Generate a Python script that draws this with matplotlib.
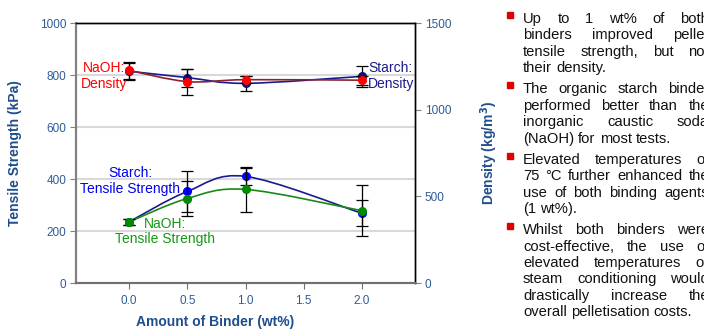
import numpy as np
import matplotlib
matplotlib.use('Agg')
import matplotlib.pyplot as plt
from matplotlib.path import Path
from matplotlib.patches import PathPatch
from matplotlib.lines import Line2D

plt.rcParams['font.family'] = ['Liberation Sans', 'DejaVu Sans']

# binder amount (wt%)
binder = [0.0, 0.5, 1.0, 2.0]

# tensile strength (kPa), left axis
starch_ts = [235, 352, 410, 268]
starch_ts_err = [12, 79, 33, 50]
naoh_ts = [235, 325, 360, 278]
naoh_ts_err = [12, 66, 88, 98]

# density (kg/m3), right axis
starch_den = [1222, 1185, 1152, 1192]
starch_den_err = [48, 52, 45, 60]
naoh_den = [1227, 1162, 1173, 1170]
naoh_den_err = [48, 75, 22, 25]

bullets = [
    ["Up to 1 wt% of both", "binders improved pellet",
     "tensile strength, but not", "their density."],
    ["The organic starch binder", "performed better than the",
     "inorganic caustic soda", "(NaOH) for most tests."],
    ["Elevated temperatures of", "75 °C further enhanced the",
     "use of both binding agents", "(1 wt%)."],
    ["Whilst both binders were", "cost-effective, the use of",
     "elevated temperatures or", "steam conditioning would",
     "drastically increase the", "overall pelletisation costs."],
]

W, H = 704, 329
TICK_C = '#2E5C99'
LABEL_C = '#1F4E8C'


def px(x, y):
    return x / W, 1 - y / H


def smooth_path(xs, ys):
    # bezier smoothing like the spreadsheet "smoothed line" option
    pts = np.column_stack([xs, ys]).astype(float)
    verts = [pts[0]]
    codes = [Path.MOVETO]
    n = len(pts)
    for i in range(n - 1):
        p0 = pts[max(i - 1, 0)]
        p1 = pts[i]
        p2 = pts[i + 1]
        p3 = pts[min(i + 2, n - 1)]
        verts += [p1 + (p2 - p0) / 6, p2 - (p3 - p1) / 6, p2]
        codes += [Path.CURVE4] * 3
    return Path(verts, codes)


def draw_series(ax, x, y, err, line_c, mark_c, z):
    ax.add_patch(PathPatch(smooth_path(x, y), facecolor='none',
                           edgecolor=line_c, lw=1.2, zorder=z))
    ax.errorbar(x, y, yerr=err, fmt='none', ecolor='black', elinewidth=0.9,
                capsize=4, capthick=0.9, zorder=z + 0.1)
    ax.plot(x, y, 'o', color=mark_c, ms=5.5, zorder=z + 0.2)


fig = plt.figure(figsize=(W / 100, H / 100), dpi=100)
ax = fig.add_axes([76 / W, 1 - 283 / H, (415 - 76) / W, (283 - 23) / H])
ax2 = ax.twinx()

ax.set_xlim(-0.455, 2.455)
ax.set_ylim(0, 1000)
ax2.set_ylim(0, 1500)
ax.set_yticks([0, 200, 400, 600, 800, 1000])
ax2.set_yticks([0, 500, 1000, 1500])
ax.set_xticks([0.0, 0.5, 1.0, 1.5, 2.0])
ax.set_xticklabels(['0.0', '0.5', '1.0', '1.5', '2.0'])

for v in [200, 400, 600, 800]:
    ax.axhline(v, color='#D9D9D9', lw=1.5, zorder=0)

draw_series(ax2, binder, starch_den, starch_den_err, '#1A1A8C', '#10107A', 3)
draw_series(ax2, binder, naoh_den, naoh_den_err, '#8B2230', '#FF0000', 4)
draw_series(ax, binder, starch_ts, starch_ts_err, '#1A1A8C', '#0000FF', 3)
draw_series(ax, binder, naoh_ts, naoh_ts_err, '#178A17', '#008A00', 4)

for a in (ax, ax2):
    a.spines['top'].set_color('black')
    a.spines['top'].set_linewidth(1.0)
    a.spines['right'].set_color('black')
    a.spines['right'].set_linewidth(1.0)
    a.spines['left'].set_color('#808080')
    a.spines['left'].set_linewidth(1.5)
    a.spines['bottom'].set_color('#707070')
    a.spines['bottom'].set_linewidth(1.5)

ax.tick_params(axis='y', colors='#808080', labelcolor=TICK_C, labelsize=8.5,
               length=4, pad=3)
ax.tick_params(axis='x', colors='#707070', labelcolor=TICK_C, labelsize=8.5,
               length=4, pad=5)
ax2.tick_params(axis='y', colors='#808080', labelcolor=TICK_C, labelsize=8.5,
                length=4, pad=3)

ax.set_ylabel('Tensile Strength (kPa)', fontsize=10, fontweight='bold',
              color=LABEL_C)
ax.yaxis.set_label_coords(-(76 - 22) / (415 - 76), 0.5)
ax2.set_ylabel('Density (kg/m$^\\mathbf{3}$)', fontsize=10, fontweight='bold',
               color=LABEL_C)
ax2.yaxis.set_label_coords(1 + (478 - 415) / (415 - 76), 0.5)
ax.set_xlabel('Amount of Binder (wt%)', fontsize=10, fontweight='bold',
              color=LABEL_C, va='center')
ax.xaxis.set_label_coords(0.41, -(322 - 283) / (283 - 23))

# series labels
fig.text(*px(104, 76), 'NaOH:\nDensity', color='#FF0000', fontsize=10,
         ha='center', va='center', linespacing=1.15)
fig.text(*px(368, 76), 'Starch:\nDensity', color='#1A1A8C', fontsize=10,
         ha='left', va='center', linespacing=1.15)
fig.text(*px(130, 181), 'Starch:\nTensile Strength', color='#0000F0',
         fontsize=10, ha='center', va='center', linespacing=1.15)
fig.text(*px(165, 231.5), 'NaOH:\nTensile Strength', color='#119911',
         fontsize=10, ha='center', va='center', linespacing=1.15)

# bullet list, justified text
fig.canvas.draw()
renderer = fig.canvas.get_renderer()
FS = 10.6
left, right = 523, 709
probe1 = fig.text(0, 0, 'x x', fontsize=FS)
probe2 = fig.text(0, 0, 'xx', fontsize=FS)
space_w = (probe1.get_window_extent(renderer).width
           - probe2.get_window_extent(renderer).width)
probe1.remove()
probe2.remove()

y = 19.0
for pi, para in enumerate(bullets):
    fig.add_artist(Line2D([510 / W], [1 - (y - 4) / H], marker='s', ms=4.2,
                          color='#E00000', transform=fig.transFigure))
    for li, line in enumerate(para):
        words = line.split(' ')
        texts = [fig.text(0, 0, w, fontsize=FS, color='#111111', va='center')
                 for w in words]
        widths = [t.get_window_extent(renderer).width for t in texts]
        if li < len(para) - 1 and len(words) > 1:
            gap = (right - left - sum(widths)) / (len(words) - 1)
        else:
            gap = space_w
        x = left
        for t, w in zip(texts, widths):
            t.set_position(px(x, y))
            x += w + gap
        y += 16.4
    y += 4.8

fig.savefig('out.png', dpi=100)
